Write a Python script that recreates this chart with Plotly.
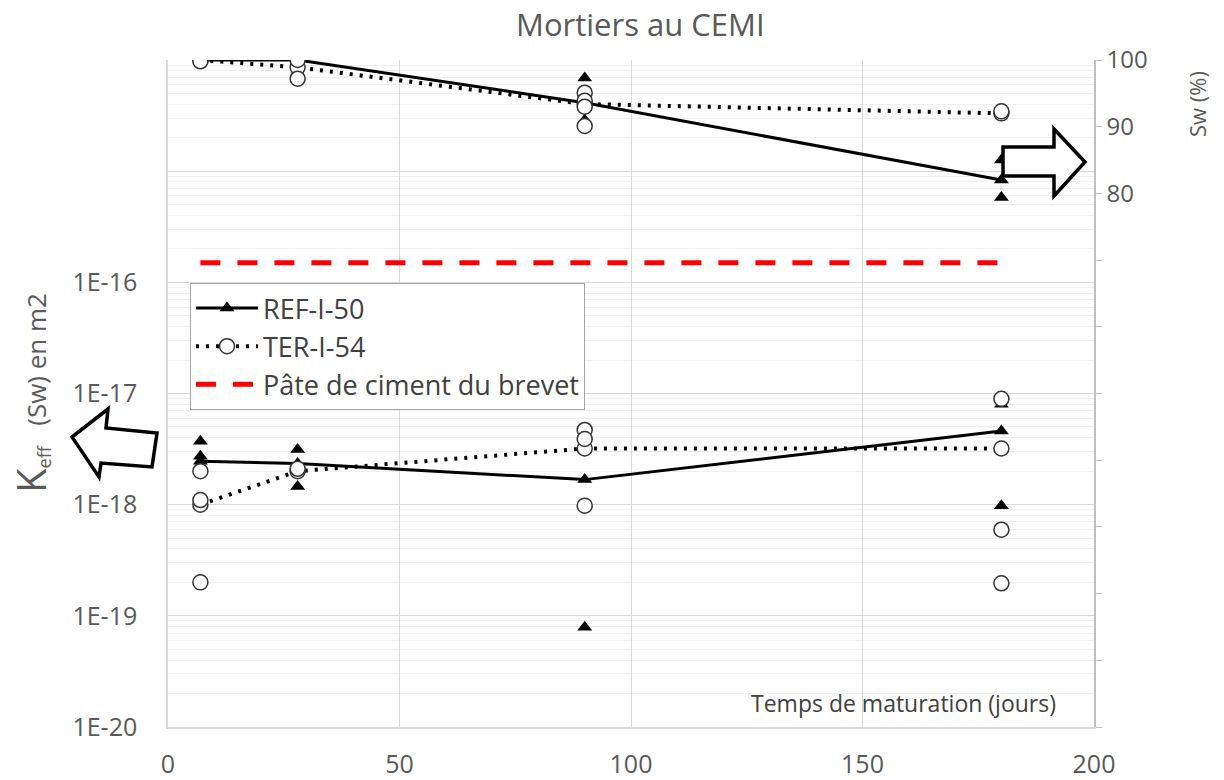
import plotly.graph_objects as go

# Maturation times (days)
days = [7, 28, 90, 180]

# Mean curves: water saturation Sw (%) on the right axis
ref_sw_mean = [100.0, 100.0, 93.6, 82.0]
ter_sw_mean = [100.0, 98.9, 93.4, 92.0]

# Mean curves: effective permeability Keff (m2) on the left axis
ref_k_mean = [2.46e-18, 2.34e-18, 1.68e-18, 4.6e-18]
ter_k_mean = [1.0e-18, 2.0e-18, 3.2e-18, 3.2e-18]

# Individual measurements, Sw (%)
ref_sw_days = [7, 28, 90, 90, 180, 180]
ref_sw_vals = [100.0, 100.0, 97.3, 91.0, 85.0, 79.4]
ter_sw_days = [7, 28, 28, 90, 90, 90, 90, 180]
ter_sw_vals = [99.8, 100.0, 97.2, 95.1, 93.9, 93.0, 90.1, 92.3]

# Individual measurements, Keff (m2)
ref_k_days = [7, 7, 28, 28, 90, 180, 180]
ref_k_vals = [3.72e-18, 2.72e-18, 3.13e-18, 1.46e-18, 7.9e-20, 8.0e-18, 9.8e-19]
ter_k_days = [7, 7, 7, 28, 90, 90, 90, 180, 180, 180]
ter_k_vals = [2.0e-18, 1.1e-18, 2.0e-19, 2.1e-18, 4.7e-18, 3.9e-18, 9.8e-19,
              8.95e-18, 5.96e-19, 1.96e-19]

# Reference cement paste (patent)
brevet_days = [7, 180]
brevet_k = [1.5e-16, 1.5e-16]

# Axis ticks
k_tickvals = [1e-20, 1e-19, 1e-18, 1e-17, 1e-16, 1e-15, 1e-14]
k_ticktext = ["1E-20", "1E-19", "1E-18", "1E-17", "1E-16", "", ""]
sw_tickvals = [0, 10, 20, 30, 40, 50, 60, 70, 80, 90, 100]
sw_ticktext = ["", "", "", "", "", "", "", "", "80", "90", "100"]

GREY = "#595959"
FONT = "Open Sans"

tri = dict(symbol="triangle-up", size=13, color="black")
circ = dict(symbol="circle", size=15, color="white", line=dict(color="#333333", width=1.5))
ref_line = dict(color="black", width=3)
ter_line = dict(color="black", width=4, dash="3px,7px")

fig = go.Figure()

# Left axis: permeability
fig.add_trace(go.Scatter(x=days, y=ref_k_mean, mode="lines+markers", name="REF-I-50",
                         line=ref_line, marker=tri, legendrank=1))
fig.add_trace(go.Scatter(x=days, y=ter_k_mean, mode="lines+markers", name="TER-I-54",
                         line=ter_line, marker=circ, legendrank=2))
fig.add_trace(go.Scatter(x=brevet_days, y=brevet_k, mode="lines",
                         name="Pâte de ciment du brevet",
                         line=dict(color="#ff0000", width=5, dash="20px,17px"),
                         legendrank=3))
fig.add_trace(go.Scatter(x=ref_k_days, y=ref_k_vals, mode="markers", marker=tri,
                         showlegend=False))
fig.add_trace(go.Scatter(x=ter_k_days, y=ter_k_vals, mode="markers", marker=circ,
                         showlegend=False))

# Right axis: saturation
fig.add_trace(go.Scatter(x=days, y=ref_sw_mean, mode="lines+markers", line=ref_line,
                         marker=tri, yaxis="y2", showlegend=False))
fig.add_trace(go.Scatter(x=days, y=ter_sw_mean, mode="lines+markers", line=ter_line,
                         marker=circ, yaxis="y2", showlegend=False))
fig.add_trace(go.Scatter(x=ref_sw_days, y=ref_sw_vals, mode="markers", marker=tri,
                         yaxis="y2", showlegend=False))
fig.add_trace(go.Scatter(x=ter_sw_days, y=ter_sw_vals, mode="markers", marker=circ,
                         yaxis="y2", showlegend=False))

# Plot-area geometry in pixels, used to place the block arrows and labels
L, R, T, B = 168, 1094, 60, 727


def px(x, y):
    return (x - L) / (R - L), (B - y) / (B - T)


def poly(points):
    pts = [px(x, y) for x, y in points]
    d = "M " + " L ".join(f"{a:.5f},{b:.5f}" for a, b in pts) + " Z"
    return dict(type="path", path=d, xref="paper", yref="paper",
                fillcolor="white", line=dict(color="black", width=3.5), layer="above")


left_arrow = [(72, 437), (108, 409), (106, 428), (157, 433), (152, 467),
              (101, 463), (99, 477)]
right_arrow = [(1003, 147), (1054, 147), (1054, 129), (1085, 162), (1054, 196),
               (1054, 176), (1003, 176)]

fig.update_layout(
    width=1224, height=780,
    margin=dict(l=L, r=1224 - R, t=T, b=780 - B, autoexpand=False),
    paper_bgcolor="white", plot_bgcolor="white",
    font=dict(family=FONT, color=GREY, size=20),
    showlegend=True,
    legend=dict(x=(190 - L) / (R - L), y=(B - 283) / (B - T), xanchor="left", yanchor="top",
                bgcolor="white", bordercolor="#a6a6a6", borderwidth=1,
                font=dict(family=FONT, size=27, color="#404040"),
                itemwidth=62),
    xaxis=dict(range=[0, 200], tickvals=[0, 50, 100, 150, 200], showgrid=True,
               gridcolor="#d9d9d9", gridwidth=1, zeroline=False, automargin=False,
               showline=True, linecolor="#d9d9d9", linewidth=1.5, ticks="",
               ticklabelstandoff=14,
               tickfont=dict(size=25, color=GREY, family=FONT)),
    yaxis=dict(type="log", range=[-20, -14], tickvals=k_tickvals, ticktext=k_ticktext,
               showgrid=True, gridcolor="#d9d9d9", gridwidth=1, automargin=False,
               minor=dict(showgrid=True, gridcolor="#efefef", gridwidth=1, dtick="D1", ticks=""),
               showline=True, linecolor="#d9d9d9", linewidth=1.5, ticks="",
               ticklabelstandoff=24,
               tickfont=dict(size=25, color=GREY, family=FONT), zeroline=False),
    yaxis2=dict(overlaying="y", side="right", range=[0, 100], tickvals=sw_tickvals,
                ticktext=sw_ticktext, showgrid=False, zeroline=False, automargin=False,
                showline=True, linecolor="#bfbfbf", linewidth=1.5,
                ticks="outside", ticklen=6, tickcolor="#bfbfbf",
                tickfont=dict(size=24, color=GREY, family=FONT)),
    shapes=[poly(left_arrow), poly(right_arrow)],
    annotations=[
        dict(text="Mortiers au CEMI", xref="paper", yref="paper",
             x=px(640, 0)[0], y=px(0, 24)[1], xanchor="center", yanchor="middle",
             showarrow=False, font=dict(size=31, color=GREY, family=FONT)),
        dict(text="<span style='font-size:40px'>K</span><sub>eff</sub>\u00a0\u00a0\u00a0(Sw) en m2",
             xref="paper", yref="paper", x=px(30, 0)[0], y=px(0, 393)[1],
             xanchor="center", yanchor="middle", textangle=-90, showarrow=False,
             font=dict(size=26, color=GREY, family=FONT)),
        dict(text="Sw (%)", xref="paper", yref="paper", x=px(1197, 0)[0], y=px(0, 104)[1],
             xanchor="center", yanchor="middle", textangle=-90, showarrow=False,
             font=dict(size=22, color=GREY, family=FONT)),
        dict(text="Temps de maturation (jours)", xref="paper", yref="paper",
             x=px(1058, 0)[0], y=px(0, 703)[1], xanchor="right", yanchor="middle",
             showarrow=False, font=dict(size=23, color="#404040", family=FONT)),
    ],
)

fig.write_html("out.html")
